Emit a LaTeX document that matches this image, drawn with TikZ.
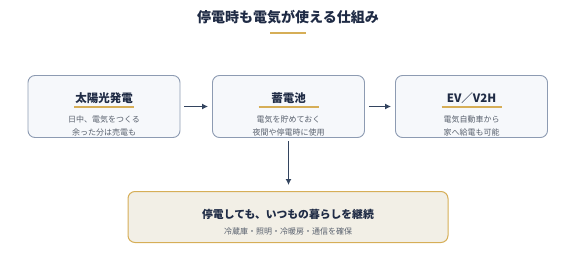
\documentclass[tikz,border=0pt]{standalone}
\usepackage{fontspec}
\setmainfont{Noto Sans CJK JP}
\usetikzlibrary{arrows.meta, positioning}
\definecolor{navy}{HTML}{1F2B45}
\definecolor{gold}{HTML}{D6AE57}
\definecolor{boxline}{HTML}{8D9BB2}
\definecolor{boxfill}{HTML}{F6F8FB}
\definecolor{bodygray}{HTML}{59616E}
\definecolor{sandfill}{HTML}{F2EFE6}
\definecolor{arrowblue}{HTML}{33445F}

\begin{document}
\begin{tikzpicture}[x=1pt, y=-1pt,
    card/.style={draw=boxline, fill=boxfill, line width=0.9pt, rounded corners=7pt,
                 minimum width=152pt, minimum height=62pt},
    result/.style={draw=gold, fill=sandfill, line width=1pt, rounded corners=7pt,
                   minimum width=320pt, minimum height=51pt},
    cardhead/.style={font=\bfseries\fontsize{11.5}{13}\selectfont, text=navy},
    cardbody/.style={font=\fontsize{8}{10}\selectfont, text=bodygray},
    flow/.style={-{Latex[length=6pt, width=6pt]}, arrowblue, line width=1.3pt}]
  \useasboundingbox (0,0) rectangle (576,271);
  % Titel
  \node[font=\bfseries\fontsize{14}{16}\selectfont, text=navy] (title) at (288,17) {停電時も電気が使える仕組み};
  \draw[gold, line width=1.8pt] (270,33) -- (306,33);
  % Kaesten oben
  \node[card] (solar) at (104,106.5) {};
  \node[card] (battery) at (288.5,106.5) {};
  \node[card] (ev) at (471.5,106.5) {};
  \foreach \n/\x/\head/\lineA/\lineB in {
      solar/104/太陽光発電/日中、電気をつくる/余った分は売電も,
      battery/288.5/蓄電池/電気を貯めておく/夜間や停電時に使用,
      ev/471.5/EV／V2H/電気自動車から/家へ給電も可能}{
    \node[cardhead] (\n-head) at (\x,98) {\head};
    \draw[gold, line width=1.4pt] (\x-30,107) -- (\x+30,107);
    \node[cardbody] (\n-a) at (\x,119) {\lineA};
    \node[cardbody] (\n-b) at (\x,132) {\lineB};
  }
  % Ergebnis
  \node[result] (keep) at (288,217) {};
  \node[font=\bfseries\fontsize{10.8}{12}\selectfont, text=navy] (keep-head) at (288,214) {停電しても、いつもの暮らしを継続};
  \node[cardbody] (keep-sub) at (288,231) {冷蔵庫・照明・冷暖房・通信を確保};
  % Pfeile
  \draw[flow, shorten <=4pt, shorten >=4pt] (solar) -- (battery);
  \draw[flow, shorten <=4pt, shorten >=4pt] (battery) -- (ev);
  \draw[flow, shorten <=3.5pt, shorten >=6pt] (battery.south) -- (battery.south |- keep.north);
\end{tikzpicture}
\end{document}
